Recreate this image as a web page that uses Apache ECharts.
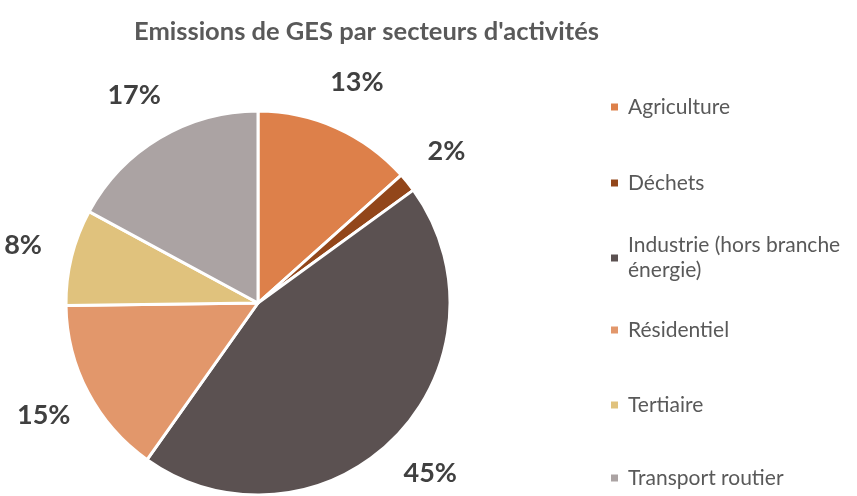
<!DOCTYPE html>
<html lang="fr">
<head>
    <meta charset="UTF-8">
    <title>Emissions de GES</title>
    <script src="https://cdn.jsdelivr.net/npm/echarts@6/dist/echarts.min.js"></script>
    <style>
        html, body { margin: 0; padding: 0; background: #fff; }
    </style>
</head>
<body>
    <div id="pie" style="width: 857px; height: 496px;"></div>
    <script>
        // données (en %)
        var secteurs = ['Agriculture', 'Déchets', 'Industrie (hors branche énergie)', 'Résidentiel', 'Tertiaire', 'Transport routier']
        var valeurs = [13.4, 1.6, 44.8, 15.0, 8.1, 17.1]
        var couleurs = ['#DD804A', '#92461A', '#5B5151', '#E2976B', '#E0C27D', '#ABA3A3']

        var FONT = 'Lato, "Open Sans", sans-serif'
        // centre vertical de chaque entrée de légende
        var legendeY = [107, 183, 258, 330, 405, 478]
        var LH = 25

        var pieData = secteurs.map(function (s, i) {
            return { name: s, value: valeurs[i], itemStyle: { color: couleurs[i] } }
        })

        var legends = secteurs.map(function (s, i) {
            var deuxLignes = s.indexOf('(hors') >= 0
            return {
                orient: 'vertical',
                left: 609,
                top: deuxLignes ? legendeY[i] - LH * 1.5 : legendeY[i] - LH / 2,
                padding: 0,
                itemWidth: 9,
                itemHeight: 9,
                icon: 'rect',
                selectedMode: false,
                data: [s],
                formatter: function (n) {
                    return n.replace(' énergie)', '\nénergie)')
                },
                textStyle: {
                    fontFamily: FONT,
                    fontSize: 21,
                    color: '#595959',
                    lineHeight: LH,
                    padding: deuxLignes ? [LH, 0, 0, 4] : [0, 0, 0, 4]
                }
            }
        })

        var chart = echarts.init(document.getElementById('pie'))
        chart.setOption({
            animation: false,
            title: {
                text: "Emissions de GES par secteurs d'activités",
                left: 129,
                top: 14,
                textStyle: {
                    fontFamily: FONT,
                    fontSize: 25.5,
                    fontWeight: 'bold',
                    color: '#595959'
                }
            },
            legend: legends,
            series: [
                {
                    type: 'pie',
                    center: [258, 303],
                    radius: 192,
                    startAngle: 90,
                    data: pieData,
                    itemStyle: { borderColor: '#fff', borderWidth: 3 },
                    label: { show: false },
                    labelLine: { show: false },
                    emphasis: { disabled: true }
                },
                {
                    // série transparente qui porte les étiquettes en dehors du disque
                    type: 'pie',
                    center: [258, 303],
                    radius: [192, 286],
                    startAngle: 90,
                    silent: true,
                    percentPrecision: 0,
                    data: pieData.map(function (d) {
                        return { name: d.name, value: d.value, itemStyle: { color: 'rgba(0,0,0,0)' } }
                    }),
                    label: {
                        show: true,
                        position: 'inside',
                        formatter: '{d}%',
                        fontFamily: FONT,
                        fontSize: 27,
                        fontWeight: 'bold',
                        color: '#404040'
                    },
                    labelLine: { show: false },
                    emphasis: { disabled: true }
                }
            ]
        })
    </script>
</body>
</html>
